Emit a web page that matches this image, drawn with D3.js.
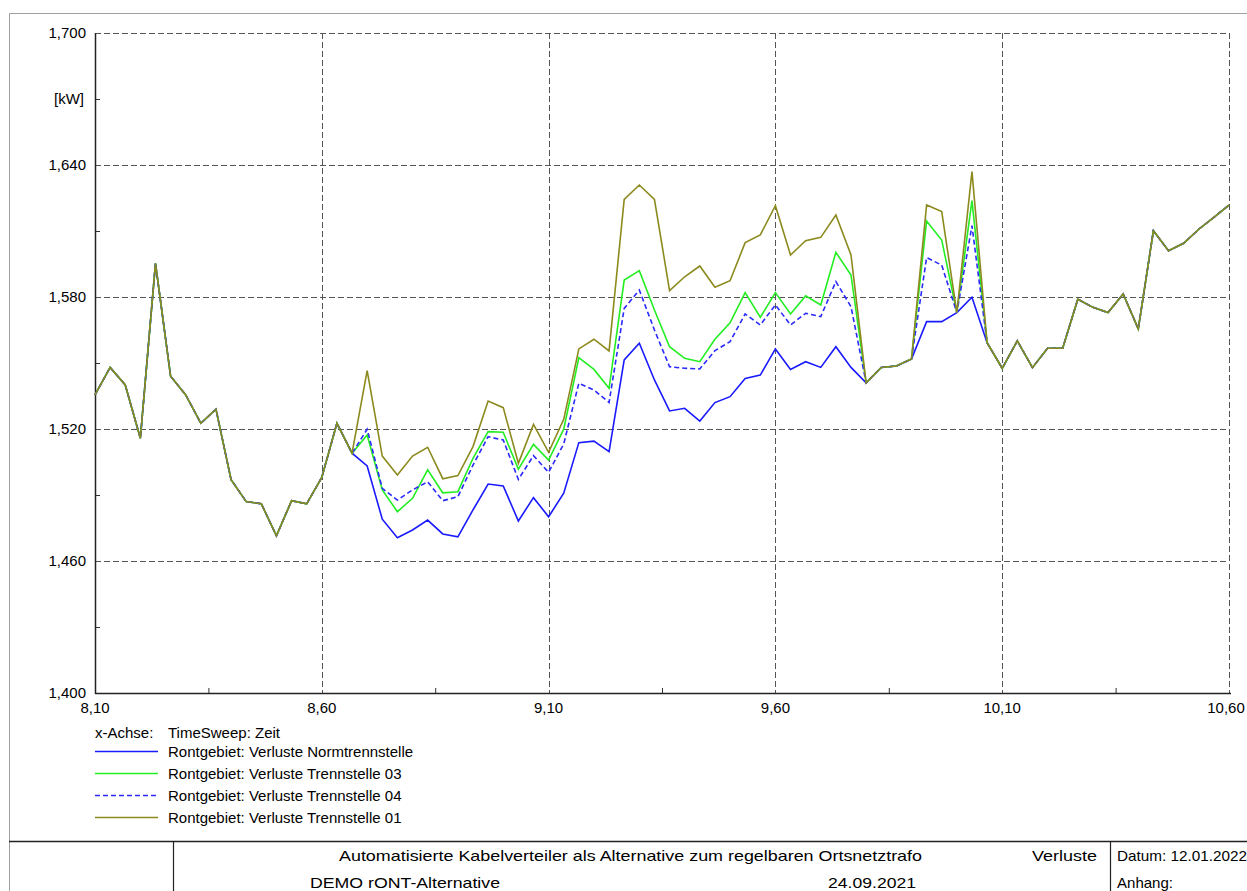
<!DOCTYPE html>
<html>
<head>
<meta charset="utf-8">
<script src="https://d3js.org/d3.v7.min.js"></script>
<style>
  body { margin: 0; background: #fff; }
  svg { display: block; font-family: Arial, "Liberation Sans", sans-serif; }
</style>
</head>
<body>
<script>
// Zeitachse: 8,10 ... 10,60 in Schritten von 1/30
const xStart = 8.10, xStepCount = 75;

// Verluste in kW
const normtrennstelle = [
  1.5355, 1.548, 1.540, 1.5158, 1.5953, 1.544, 1.5355, 1.5226, 1.529, 1.497,
  1.487, 1.486, 1.4714, 1.4874, 1.486, 1.498, 1.5226, 1.509, 1.5032, 1.479,
  1.4706, 1.4741, 1.4786, 1.4723, 1.471, 1.4832, 1.495, 1.4941, 1.4782, 1.4888,
  1.4801, 1.4908, 1.5138, 1.5145, 1.5097, 1.5514, 1.559, 1.5423, 1.5282, 1.5294,
  1.5236, 1.532, 1.5347, 1.543, 1.5445, 1.5564, 1.5471, 1.5506, 1.548, 1.5574,
  1.548, 1.541, 1.548, 1.5486, 1.5518, 1.5688, 1.5688, 1.5729, 1.5799, 1.5592,
  1.5476, 1.5601, 1.5479, 1.5567, 1.5567, 1.579, 1.5753, 1.5729, 1.5814, 1.5655,
  1.6101, 1.601, 1.6044, 1.6108, 1.6162, 1.6218
];
const trennstelle03 = [
  1.5355, 1.548, 1.540, 1.5158, 1.5953, 1.544, 1.5355, 1.5226, 1.529, 1.497,
  1.487, 1.486, 1.4714, 1.4874, 1.486, 1.498, 1.5226, 1.509, 1.5173, 1.4923,
  1.4824, 1.4885, 1.5014, 1.491, 1.4915, 1.5067, 1.5188, 1.5185, 1.5017, 1.513,
  1.5059, 1.5199, 1.5524, 1.5471, 1.5385, 1.5877, 1.592, 1.5741, 1.5574, 1.5521,
  1.5506, 1.5608, 1.5683, 1.582, 1.5708, 1.582, 1.5723, 1.5805, 1.5764, 1.6003,
  1.590, 1.541, 1.548, 1.5486, 1.5518, 1.6145, 1.6059, 1.5729, 1.6238, 1.5592,
  1.5476, 1.5601, 1.5479, 1.5567, 1.5567, 1.579, 1.5753, 1.5729, 1.5814, 1.5655,
  1.6101, 1.601, 1.6044, 1.6108, 1.6162, 1.6218
];
const trennstelle04 = [
  1.5355, 1.548, 1.540, 1.5158, 1.5953, 1.544, 1.5355, 1.5226, 1.529, 1.497,
  1.487, 1.486, 1.4714, 1.4874, 1.486, 1.498, 1.5226, 1.509, 1.5199, 1.493,
  1.4877, 1.4923, 1.496, 1.4874, 1.4892, 1.5036, 1.5165, 1.515, 1.4971, 1.5079,
  1.5003, 1.5132, 1.5408, 1.5377, 1.5321, 1.5748, 1.5832, 1.565, 1.5483, 1.5476,
  1.5473, 1.5556, 1.5597, 1.5723, 1.5673, 1.5764, 1.5673, 1.5726, 1.5711, 1.587,
  1.5756, 1.541, 1.548, 1.5486, 1.5518, 1.5979, 1.5945, 1.5729, 1.6124, 1.5592,
  1.5476, 1.5601, 1.5479, 1.5567, 1.5567, 1.579, 1.5753, 1.5729, 1.5814, 1.5655,
  1.6101, 1.601, 1.6044, 1.6108, 1.6162, 1.6218
];
const trennstelle01 = [
  1.5355, 1.548, 1.540, 1.5158, 1.5953, 1.544, 1.5355, 1.5226, 1.529, 1.497,
  1.487, 1.486, 1.4714, 1.4874, 1.486, 1.498, 1.5226, 1.509, 1.5465, 1.5077,
  1.4991, 1.5077, 1.5117, 1.4974, 1.4988, 1.512, 1.5327, 1.5297, 1.5044, 1.5221,
  1.5094, 1.5244, 1.5564, 1.5608, 1.5555, 1.6244, 1.6309, 1.6244, 1.5829, 1.5892,
  1.5941, 1.5844, 1.5874, 1.6047, 1.6082, 1.6215, 1.5991, 1.6056, 1.6071, 1.6173,
  1.5991, 1.541, 1.548, 1.5486, 1.5518, 1.6218, 1.6188, 1.5729, 1.637, 1.5592,
  1.5476, 1.5601, 1.5479, 1.5567, 1.5567, 1.579, 1.5753, 1.5729, 1.5814, 1.5655,
  1.6101, 1.601, 1.6044, 1.6108, 1.6162, 1.6218
];

const seriesNames = [
  "Rontgebiet: Verluste Normtrennstelle",
  "Rontgebiet: Verluste Trennstelle 03",
  "Rontgebiet: Verluste Trennstelle 04",
  "Rontgebiet: Verluste Trennstelle 01"
];
const seriesColors = ["#1a1aff", "#22ee22", "#2a2aff", "#8c8a1e"];
const seriesDash = [null, null, "5,3", null];

const yMajorTicks = [1.400, 1.460, 1.520, 1.580, 1.640, 1.700];
const yMinorTicks = [1.430, 1.490, 1.550, 1.610, 1.670];
const xMajorTicks = [8.10, 8.60, 9.10, 9.60, 10.10, 10.60];
const xMinorTicks = [8.35, 8.85, 9.35, 9.85, 10.35];

const footerTitle = "Automatisierte Kabelverteiler als Alternative zum regelbaren Ortsnetztrafo";
const footerProject = "DEMO rONT-Alternative";
const footerVariant = "Verluste";
const footerDate1 = "24.09.2021";
const footerDatum = "Datum: 12.01.2022";
const footerAnhang = "Anhang:";

const width = 1247, height = 891;
const plot = { left: 95, right: 1229, top: 33, bottom: 693 };

const svg = d3.select("body").append("svg")
  .attr("width", width)
  .attr("height", height);

// Rahmen
svg.append("path")
  .attr("d", `M9.5,${height} V13.5 H${width}`)
  .attr("fill", "none")
  .attr("stroke", "#a0a0a0")
  .attr("stroke-width", 1);

const x = d3.scaleLinear().domain([8.10, 10.60]).range([plot.left, plot.right]);
const y = d3.scaleLinear().domain([1.400, 1.700]).range([plot.bottom, plot.top]);

const fmt = v => d3.format(".2f")(v).replace(".", ",");
const fmtY = v => d3.format(".3f")(v).replace(".", ",");

// Gitterlinien
svg.append("g").selectAll("line")
  .data(yMajorTicks.slice(1))
  .join("line")
  .attr("x1", plot.left).attr("x2", plot.right)
  .attr("y1", d => Math.round(y(d)) + 0.5).attr("y2", d => Math.round(y(d)) + 0.5)
  .attr("stroke", "#555").attr("stroke-dasharray", "6,3");

svg.append("g").selectAll("line")
  .data(xMajorTicks.slice(1))
  .join("line")
  .attr("x1", d => Math.round(x(d)) + 0.5).attr("x2", d => Math.round(x(d)) + 0.5)
  .attr("y1", plot.top).attr("y2", plot.bottom)
  .attr("stroke", "#555").attr("stroke-dasharray", "6,3");

// Achsen
const yAxis = d3.axisRight(y).tickValues(yMinorTicks).tickSize(5).tickFormat("");
svg.append("g")
  .attr("transform", `translate(${plot.left},0)`)
  .call(yAxis)
  .call(g => g.select(".domain").remove())
  .call(g => g.selectAll("line").attr("stroke", "#333"));

const xAxis = d3.axisTop(x).tickValues(xMinorTicks).tickSize(5).tickFormat("");
svg.append("g")
  .attr("transform", `translate(0,${plot.bottom})`)
  .call(xAxis)
  .call(g => g.select(".domain").remove())
  .call(g => g.selectAll("line").attr("stroke", "#333"));

svg.append("line")
  .attr("x1", plot.left + 0.5).attr("x2", plot.left + 0.5)
  .attr("y1", plot.top).attr("y2", plot.bottom + 1)
  .attr("stroke", "#222").attr("stroke-width", 1.5);
svg.append("line")
  .attr("x1", plot.left).attr("x2", plot.right + 2)
  .attr("y1", plot.bottom + 0.5).attr("y2", plot.bottom + 0.5)
  .attr("stroke", "#222").attr("stroke-width", 1.5);

// Achsenbeschriftung
svg.append("g").selectAll("text")
  .data(yMajorTicks)
  .join("text")
  .attr("x", 86)
  .attr("y", d => y(d) + 5)
  .attr("text-anchor", "end")
  .attr("font-size", 15)
  .attr("fill", "#000")
  .text(fmtY);

svg.append("text")
  .attr("x", 84)
  .attr("y", y(1.670) + 5)
  .attr("text-anchor", "end")
  .attr("font-size", 15)
  .attr("fill", "#000")
  .text("[kW]");

svg.append("g").selectAll("text")
  .data(xMajorTicks)
  .join("text")
  .attr("x", d => x(d) + (d === 10.60 ? -3 : 0))
  .attr("y", plot.bottom + 20)
  .attr("text-anchor", "middle")
  .attr("font-size", 15)
  .attr("fill", "#000")
  .text(fmt);

// Kurven
const xs = d3.range(xStepCount + 1).map(i => xStart + i / 30);
const allSeries = [normtrennstelle, trennstelle03, trennstelle04, trennstelle01];
const line = d3.line()
  .x((d, i) => x(xs[i]))
  .y(d => y(d));

svg.append("g").selectAll("path")
  .data(allSeries)
  .join("path")
  .attr("d", line)
  .attr("fill", "none")
  .attr("stroke", (d, i) => seriesColors[i])
  .attr("stroke-width", 1.6)
  .attr("stroke-dasharray", (d, i) => seriesDash[i])
  .attr("stroke-linejoin", "miter");

// Legende
svg.append("text")
  .attr("x", 95).attr("y", 738)
  .attr("font-size", 15).attr("fill", "#000")
  .text("x-Achse:");
svg.append("text")
  .attr("x", 168).attr("y", 738)
  .attr("font-size", 15).attr("fill", "#000")
  .text("TimeSweep: Zeit");

const legend = svg.append("g").selectAll("g")
  .data(seriesNames)
  .join("g")
  .attr("transform", (d, i) => `translate(0,${751 + i * 22})`);
legend.append("line")
  .attr("x1", 95).attr("x2", 158)
  .attr("y1", 0.5).attr("y2", 0.5)
  .attr("stroke", (d, i) => seriesColors[i])
  .attr("stroke-width", 1.6)
  .attr("stroke-dasharray", (d, i) => seriesDash[i]);
legend.append("text")
  .attr("x", 168).attr("y", 5.5)
  .attr("font-size", 15).attr("fill", "#000")
  .text(d => d);

// Schriftfeld
svg.append("line")
  .attr("x1", 9).attr("x2", width)
  .attr("y1", 841.5).attr("y2", 841.5)
  .attr("stroke", "#222").attr("stroke-width", 1.5);
svg.selectAll("line.sep")
  .data([173.5, 1110.5])
  .join("line")
  .attr("class", "sep")
  .attr("x1", d => d).attr("x2", d => d)
  .attr("y1", 841).attr("y2", height)
  .attr("stroke", "#222").attr("stroke-width", 1.2);

const footer = [
  { t: footerTitle, x: 339, y: 861, len: 583 },
  { t: footerVariant, x: 1032, y: 861, len: 65 },
  { t: footerDatum, x: 1117, y: 861, len: 130 },
  { t: footerProject, x: 310, y: 888, len: 190 },
  { t: footerDate1, x: 828, y: 888, len: 88 },
  { t: footerAnhang, x: 1117, y: 888, len: 56 }
];
svg.append("g").selectAll("text")
  .data(footer)
  .join("text")
  .attr("x", d => d.x).attr("y", d => d.y)
  .attr("font-size", 15).attr("fill", "#000")
  .attr("textLength", d => d.len)
  .attr("lengthAdjust", "spacingAndGlyphs")
  .text(d => d.t);
</script>
</body>
</html>
